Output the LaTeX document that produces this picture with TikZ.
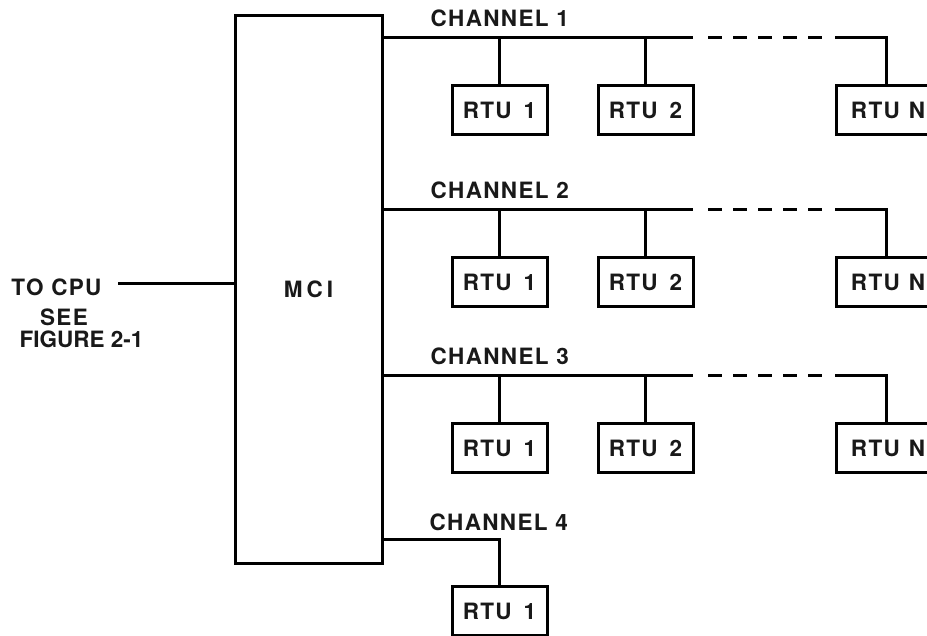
\documentclass[tikz,border=0pt]{standalone}
\usepackage{fontspec}
\setmainfont{TeX Gyre Heros}
\newfontfamily\lblfont[LetterSpace=6]{TeX Gyre Heros}
\begin{document}
\begin{tikzpicture}[x=1pt,y=-1pt,line width=3pt,line join=miter,
  lbl/.style={font=\lblfont\bfseries\fontsize{22.5}{26}\selectfont,inner sep=0pt,text=black!90},
  rtu/.style={draw,minimum width=95pt,minimum height=49pt,inner sep=0pt,
    font=\lblfont\bfseries\fontsize{22.5}{26}\selectfont,text=black!90},
  dashbus/.style={dash pattern=on 14pt off 11pt}]
\clip (0,0) rectangle (927,635);
\fill[white] (0,0) rectangle (927,635);
% MCI block
\node[draw,minimum width=147pt,minimum height=548pt,inner sep=0pt,
  font=\bfseries\fontsize{22.5}{26}\selectfont,text=black!90] (mci) at (308.5,289)
  {M\hspace{4pt}C\hspace{4pt}I};
% CPU side
\node[lbl,anchor=base west] (cpu) at (10,295) {TO CPU};
\node[lbl,anchor=base] (see) at (64,325) {SEE};
\node[lbl,anchor=base,font=\bfseries\fontsize{22.5}{26}\selectfont] (fig) at (81.5,347) {FIGURE 2-1};
\coordinate (cpuend) at (118,283);
\draw (cpuend) -- (cpuend -| mci.west);
% channels 1-3
\foreach \c/\ly/\by in {1/37/84,2/209/256,3/375/422}{
  \node[lbl,anchor=base west] (ch\c) at (429,\ly-11) {CHANNEL \c};
  \node[rtu,anchor=north] (ra\c) at (499.5,\by) {RTU\hspace{12pt}1};
  \node[rtu,anchor=north] (rb\c) at (645.5,\by) {RTU\hspace{12pt}2};
  \node[rtu,anchor=north east] (rn\c) at (933,\by) {\hspace{8pt}RTU\hspace{9pt}N};
  \coordinate (bs\c) at (693,\ly);
  \coordinate (ds\c) at (708,\ly);
  \coordinate (de\c) at (822,\ly);
  \coordinate (ns\c) at (835,\ly);
  \draw (mci.east |- bs\c) -- (bs\c);
  \draw (ra\c.north) -- (ra\c.north |- bs\c);
  \draw (rb\c.north) -- (rb\c.north |- bs\c);
  \draw[dashbus] (ds\c) -- (de\c);
  \draw (ns\c) -| (rn\c.north -| 886,0);
}
% channel 4
\node[lbl,anchor=base west] (ch4) at (428,530) {CHANNEL 4};
\node[rtu,anchor=north] (ra4) at (499.5,585) {RTU\hspace{12pt}1};
\coordinate (b4) at (382,539);
\draw (mci.east |- b4) -| (ra4.north);
\end{tikzpicture}
\end{document}
